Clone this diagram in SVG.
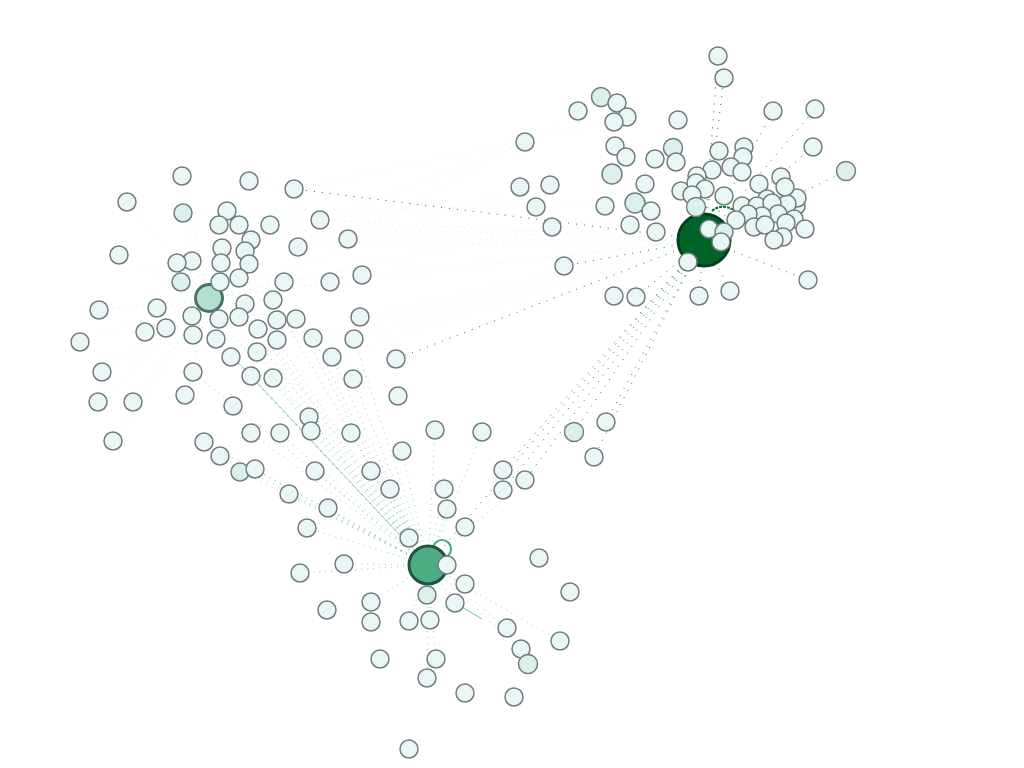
<svg xmlns="http://www.w3.org/2000/svg" width="1024" height="768" viewBox="0 0 1024 768">
<style>
.n circle{fill:#e9f6f6;stroke:#747b7b;stroke-width:1.5}
.d circle{fill:#dbf0ed}
.er{stroke:#006d2c;stroke-width:0.9;stroke-dasharray:1 7;fill:none}
.eb{stroke:#41ae76;stroke-width:0.8;stroke-dasharray:1 5;fill:none;opacity:0.7}
.el{stroke:#99d8c9;stroke-width:0.8;stroke-dasharray:1 5;fill:none;opacity:0.55}
.ef{stroke:#ccece6;stroke-width:0.7;stroke-dasharray:1 5;fill:none;opacity:0.7}
</style>
<rect width="1024" height="768" fill="#ffffff"/>
<g id="connectors">
<path class="ef" d="M209,298L704,240M249,181L704,240M320,220L704,240M348,239L704,240M362,275L704,240M330,282L704,240M298,247L704,240M270,225L704,240M360,317L704,240M209,298L520,187M209,298L552,227M227,211L605,206M251,240L630,225M284,282L651,211M313,338L704,240M354,339L704,240M332,357L704,240M209,298L428,565M183,213L704,240M294,189L614,122M348,239L578,111M320,220L525,142"/>
<path class="er" d="M704,240L294,189M704,240L396,359M704,240L846,171M704,240L815,109M704,240L808,280M704,240L773,111M704,240L724,78M704,240L718,56M704,240L606,422M704,240L574,432M704,240L594,457M704,240L525,480M704,240L503,470M704,240L428,565M704,240L730,291M704,240L699,296M704,240L813,147M704,240L636,297M704,240L564,266M704,240L503,490"/>
<path class="eb" d="M428,565L251,376M428,565L273,378M428,565L231,357M428,565L257,352M428,565L277,340M428,565L258,329M428,565L239,317M428,565L219,319M428,565L245,304M428,565L273,300M428,565L296,319M428,565L313,338M428,565L309,417M428,565L311,431M428,565L280,433M428,565L251,433M428,565L315,471M428,565L351,433M428,565L371,471M428,565L390,489M428,565L402,451M428,565L328,508M428,565L344,564M428,565L307,528M428,565L300,573M428,565L371,602M428,565L409,538M428,565L444,489M428,565L447,509M428,565L465,527M428,565L465,584M428,565L455,603M428,565L427,595M428,565L430,620M428,565L409,621M428,565L436,659M428,565L427,678M428,565L507,628M428,565L521,649M428,565L525,480M428,565L435,430M428,565L482,432M428,565L560,641M428,565L332,357M428,565L354,339M428,565L353,379M428,565L289,494M428,565L220,456M428,565L240,471M428,565L255,469M428,565L204,442M428,565L193,372M428,565L216,339"/>
<line x1="428" y1="565" x2="236" y2="360" stroke="#41ae76" stroke-width="0.6" opacity="0.8"/>
<line x1="455" y1="603" x2="482" y2="619" stroke="#41ae76" stroke-width="0.8"/>
<path class="el" d="M209,298L182,176M209,298L127,202M209,298L183,213M209,298L227,211M209,298L219,225M209,298L239,225M209,298L251,240M209,298L222,248M209,298L245,251M209,298L119,255M209,298L192,261M209,298L177,263M209,298L221,263M209,298L249,264M209,298L181,282M209,298L220,282M209,298L239,278M209,298L99,310M209,298L157,308M209,298L192,316M209,298L219,319M209,298L80,342M209,298L145,332M209,298L166,328M209,298L193,335M209,298L102,372M209,298L193,372M209,298L98,402M209,298L133,402M209,298L113,441M209,298L185,395M209,298L273,300M209,298L284,282M209,298L330,282M209,298L313,338M209,298L296,319"/>
<circle cx="442" cy="549" r="9" fill="none" stroke="#4dac84" stroke-width="2.2"/>
<path d="M712,211 Q722,203 734,210" fill="none" stroke="#006d2c" stroke-width="2" stroke-dasharray="3 1"/>
</g>
<g id="hub-right"><circle cx="704" cy="240" r="26" fill="#006428" stroke="#00401a" stroke-width="3"/></g>
<g id="hub-bottom"><circle cx="428" cy="565" r="19" fill="#4dac84" stroke="#1d5640" stroke-width="3"/></g>
<g id="hub-left"><circle cx="209" cy="298" r="13.5" fill="#b2dfd2" stroke="#4d7268" stroke-width="3"/></g>
<g id="nodes">
<g id="a1" class="n"><circle cx="182" cy="176" r="9"/></g>
<g id="a2" class="n"><circle cx="249" cy="181" r="9"/></g>
<g id="a3" class="n"><circle cx="294" cy="189" r="9"/></g>
<g id="a4" class="n"><circle cx="127" cy="202" r="9"/></g>
<g id="a5" class="n d"><circle cx="183" cy="213" r="9"/></g>
<g id="a6" class="n"><circle cx="227" cy="211" r="9"/></g>
<g id="a7" class="n"><circle cx="219" cy="225" r="9"/></g>
<g id="a8" class="n"><circle cx="239" cy="225" r="9"/></g>
<g id="a9" class="n"><circle cx="270" cy="225" r="9"/></g>
<g id="a10" class="n"><circle cx="320" cy="220" r="9"/></g>
<g id="a11" class="n"><circle cx="348" cy="239" r="9"/></g>
<g id="a12" class="n"><circle cx="251" cy="240" r="9"/></g>
<g id="a13" class="n"><circle cx="222" cy="248" r="9"/></g>
<g id="a14" class="n"><circle cx="245" cy="251" r="9"/></g>
<g id="a15" class="n"><circle cx="298" cy="247" r="9"/></g>
<g id="a16" class="n"><circle cx="119" cy="255" r="9"/></g>
<g id="a17" class="n"><circle cx="192" cy="261" r="9"/></g>
<g id="a18" class="n"><circle cx="177" cy="263" r="9"/></g>
<g id="a19" class="n"><circle cx="221" cy="263" r="9"/></g>
<g id="a20" class="n"><circle cx="249" cy="264" r="9"/></g>
<g id="a21" class="n d"><circle cx="181" cy="282" r="9"/></g>
<g id="a22" class="n"><circle cx="220" cy="282" r="9"/></g>
<g id="a23" class="n"><circle cx="239" cy="278" r="9"/></g>
<g id="a24" class="n"><circle cx="284" cy="282" r="9"/></g>
<g id="a25" class="n"><circle cx="330" cy="282" r="9"/></g>
<g id="a26" class="n"><circle cx="362" cy="275" r="9"/></g>
<g id="a27" class="n"><circle cx="245" cy="304" r="9"/></g>
<g id="a28" class="n"><circle cx="273" cy="300" r="9"/></g>
<g id="a29" class="n"><circle cx="99" cy="310" r="9"/></g>
<g id="a30" class="n"><circle cx="157" cy="308" r="9"/></g>
<g id="a31" class="n"><circle cx="192" cy="316" r="9"/></g>
<g id="a32" class="n"><circle cx="219" cy="319" r="9"/></g>
<g id="a33" class="n"><circle cx="239" cy="317" r="9"/></g>
<g id="a34" class="n"><circle cx="277" cy="320" r="9"/></g>
<g id="a35" class="n"><circle cx="296" cy="319" r="9"/></g>
<g id="a36" class="n"><circle cx="360" cy="317" r="9"/></g>
<g id="a37" class="n"><circle cx="80" cy="342" r="9"/></g>
<g id="a38" class="n"><circle cx="145" cy="332" r="9"/></g>
<g id="a39" class="n"><circle cx="166" cy="328" r="9"/></g>
<g id="a40" class="n"><circle cx="193" cy="335" r="9"/></g>
<g id="a41" class="n"><circle cx="216" cy="339" r="9"/></g>
<g id="a42" class="n"><circle cx="258" cy="329" r="9"/></g>
<g id="a43" class="n"><circle cx="277" cy="340" r="9"/></g>
<g id="a44" class="n"><circle cx="313" cy="338" r="9"/></g>
<g id="a45" class="n"><circle cx="354" cy="339" r="9"/></g>
<g id="a46" class="n"><circle cx="231" cy="357" r="9"/></g>
<g id="a47" class="n"><circle cx="257" cy="352" r="9"/></g>
<g id="a48" class="n"><circle cx="332" cy="357" r="9"/></g>
<g id="a49" class="n"><circle cx="396" cy="359" r="9"/></g>
<g id="a50" class="n"><circle cx="102" cy="372" r="9"/></g>
<g id="a51" class="n"><circle cx="193" cy="372" r="9"/></g>
<g id="a52" class="n"><circle cx="251" cy="376" r="9"/></g>
<g id="a53" class="n"><circle cx="273" cy="378" r="9"/></g>
<g id="a54" class="n"><circle cx="353" cy="379" r="9"/></g>
<g id="b1" class="n"><circle cx="98" cy="402" r="9"/></g>
<g id="b2" class="n"><circle cx="133" cy="402" r="9"/></g>
<g id="b3" class="n"><circle cx="185" cy="395" r="9"/></g>
<g id="b4" class="n"><circle cx="398" cy="396" r="9"/></g>
<g id="b5" class="n"><circle cx="233" cy="406" r="9"/></g>
<g id="b6" class="n"><circle cx="113" cy="441" r="9"/></g>
<g id="b7" class="n"><circle cx="204" cy="442" r="9"/></g>
<g id="b8" class="n"><circle cx="251" cy="433" r="9"/></g>
<g id="b9" class="n"><circle cx="280" cy="433" r="9"/></g>
<g id="b10" class="n"><circle cx="309" cy="417" r="9"/></g>
<g id="b11" class="n"><circle cx="311" cy="431" r="9"/></g>
<g id="b12" class="n"><circle cx="351" cy="433" r="9"/></g>
<g id="b13" class="n"><circle cx="435" cy="430" r="9"/></g>
<g id="b14" class="n"><circle cx="482" cy="432" r="9"/></g>
<g id="b15" class="n"><circle cx="220" cy="456" r="9"/></g>
<g id="b16" class="n d"><circle cx="240" cy="472" r="9"/></g>
<g id="b17" class="n"><circle cx="255" cy="469" r="9"/></g>
<g id="b18" class="n"><circle cx="315" cy="471" r="9"/></g>
<g id="b19" class="n"><circle cx="371" cy="471" r="9"/></g>
<g id="b20" class="n"><circle cx="402" cy="451" r="9"/></g>
<g id="b21" class="n"><circle cx="503" cy="470" r="9"/></g>
<g id="b22" class="n"><circle cx="503" cy="490" r="9"/></g>
<g id="b23" class="n"><circle cx="390" cy="489" r="9"/></g>
<g id="b24" class="n"><circle cx="444" cy="489" r="9"/></g>
<g id="b25" class="n"><circle cx="289" cy="494" r="9"/></g>
<g id="b26" class="n"><circle cx="447" cy="509" r="9"/></g>
<g id="b27" class="n"><circle cx="328" cy="508" r="9"/></g>
<g id="b28" class="n"><circle cx="465" cy="527" r="9"/></g>
<g id="b29" class="n"><circle cx="307" cy="528" r="9"/></g>
<g id="b30" class="n"><circle cx="409" cy="538" r="9"/></g>
<g id="b31" class="n"><circle cx="447" cy="565" r="9"/></g>
<g id="b32" class="n"><circle cx="344" cy="564" r="9"/></g>
<g id="b33" class="n"><circle cx="300" cy="573" r="9"/></g>
<g id="b34" class="n"><circle cx="465" cy="584" r="9"/></g>
<g id="b35" class="n d"><circle cx="427" cy="595" r="9"/></g>
<g id="b36" class="n"><circle cx="455" cy="603" r="9"/></g>
<g id="b37" class="n"><circle cx="371" cy="602" r="9"/></g>
<g id="b38" class="n"><circle cx="327" cy="610" r="9"/></g>
<g id="b39" class="n"><circle cx="371" cy="622" r="9"/></g>
<g id="b40" class="n"><circle cx="409" cy="621" r="9"/></g>
<g id="b41" class="n"><circle cx="430" cy="620" r="9"/></g>
<g id="b42" class="n"><circle cx="507" cy="628" r="9"/></g>
<g id="b43" class="n"><circle cx="380" cy="659" r="9"/></g>
<g id="b44" class="n"><circle cx="436" cy="659" r="9"/></g>
<g id="b45" class="n"><circle cx="427" cy="678" r="9"/></g>
<g id="b46" class="n"><circle cx="465" cy="693" r="9"/></g>
<g id="b47" class="n"><circle cx="514" cy="697" r="9"/></g>
<g id="b48" class="n"><circle cx="409" cy="749" r="9"/></g>
<g id="c1" class="n"><circle cx="606" cy="422" r="9"/></g>
<g id="c2" class="n d"><circle cx="574" cy="432" r="9.5"/></g>
<g id="c3" class="n"><circle cx="594" cy="457" r="9"/></g>
<g id="c4" class="n"><circle cx="525" cy="480" r="9"/></g>
<g id="c5" class="n"><circle cx="539" cy="558" r="9"/></g>
<g id="c6" class="n"><circle cx="570" cy="592" r="9"/></g>
<g id="c7" class="n"><circle cx="560" cy="641" r="9"/></g>
<g id="c8" class="n"><circle cx="521" cy="649" r="9"/></g>
<g id="c9" class="n d"><circle cx="528" cy="664" r="9.5"/></g>
<g id="r1" class="n"><circle cx="718" cy="56" r="9"/></g>
<g id="r2" class="n"><circle cx="724" cy="78" r="9"/></g>
<g id="r3" class="n d"><circle cx="601" cy="97" r="9.5"/></g>
<g id="r4" class="n"><circle cx="617" cy="103" r="9"/></g>
<g id="r5" class="n"><circle cx="627" cy="117" r="9"/></g>
<g id="r6" class="n"><circle cx="614" cy="122" r="9"/></g>
<g id="r7" class="n"><circle cx="578" cy="111" r="9"/></g>
<g id="r8" class="n"><circle cx="678" cy="120" r="9"/></g>
<g id="r9" class="n"><circle cx="773" cy="111" r="9"/></g>
<g id="r10" class="n"><circle cx="815" cy="109" r="9"/></g>
<g id="r11" class="n"><circle cx="525" cy="142" r="9"/></g>
<g id="r12" class="n"><circle cx="615" cy="146" r="9"/></g>
<g id="r13" class="n"><circle cx="626" cy="157" r="9"/></g>
<g id="r14" class="n d"><circle cx="673" cy="148" r="9.5"/></g>
<g id="r15" class="n"><circle cx="655" cy="159" r="9"/></g>
<g id="r16" class="n"><circle cx="676" cy="162" r="9"/></g>
<g id="r17" class="n"><circle cx="813" cy="147" r="9"/></g>
<g id="r18" class="n"><circle cx="719" cy="151" r="9"/></g>
<g id="r19" class="n"><circle cx="744" cy="147" r="9"/></g>
<g id="r20" class="n"><circle cx="743" cy="157" r="9"/></g>
<g id="r21" class="n"><circle cx="731" cy="167" r="9"/></g>
<g id="r22" class="n"><circle cx="742" cy="172" r="9"/></g>
<g id="r23" class="n"><circle cx="712" cy="170" r="9"/></g>
<g id="r24" class="n d"><circle cx="846" cy="171" r="9.5"/></g>
<g id="r25" class="n d"><circle cx="612" cy="174" r="10"/></g>
<g id="r26" class="n"><circle cx="520" cy="187" r="9"/></g>
<g id="r27" class="n"><circle cx="550" cy="185" r="9"/></g>
<g id="r28" class="n"><circle cx="536" cy="207" r="9"/></g>
<g id="r29" class="n"><circle cx="645" cy="184" r="9"/></g>
<g id="r30" class="n"><circle cx="697" cy="176" r="9"/></g>
<g id="r31" class="n"><circle cx="681" cy="191" r="9"/></g>
<g id="r32" class="n"><circle cx="696" cy="183" r="9"/></g>
<g id="r33" class="n"><circle cx="705" cy="189" r="9"/></g>
<g id="r34" class="n"><circle cx="692" cy="195" r="9"/></g>
<g id="r35" class="n"><circle cx="724" cy="196" r="9"/></g>
<g id="r36" class="n d"><circle cx="696" cy="207" r="9.5"/></g>
<g id="r37" class="n"><circle cx="759" cy="184" r="9"/></g>
<g id="r38" class="n"><circle cx="781" cy="177" r="9"/></g>
<g id="r39" class="n d"><circle cx="635" cy="203" r="10"/></g>
<g id="r40" class="n"><circle cx="605" cy="206" r="9"/></g>
<g id="r41" class="n"><circle cx="651" cy="211" r="9"/></g>
<g id="r42" class="n"><circle cx="552" cy="227" r="9"/></g>
<g id="r43" class="n"><circle cx="630" cy="225" r="9"/></g>
<g id="r44" class="n"><circle cx="656" cy="232" r="9"/></g>
<g id="r45" class="n"><circle cx="796" cy="206" r="9"/></g>
<g id="r46" class="n"><circle cx="797" cy="198" r="9"/></g>
<g id="r47" class="n"><circle cx="767" cy="199" r="9"/></g>
<g id="r48" class="n"><circle cx="742" cy="206" r="9"/></g>
<g id="r49" class="n"><circle cx="757" cy="206" r="9"/></g>
<g id="r50" class="n"><circle cx="787" cy="204" r="9"/></g>
<g id="r51" class="n"><circle cx="785" cy="187" r="9"/></g>
<g id="r52" class="n"><circle cx="772" cy="203" r="9"/></g>
<g id="r53" class="n"><circle cx="794" cy="219" r="9"/></g>
<g id="r72" class="n"><circle cx="778" cy="214" r="9"/></g>
<g id="r73" class="n"><circle cx="762" cy="216" r="9"/></g>
<g id="r54" class="n"><circle cx="805" cy="229" r="9"/></g>
<g id="r55" class="n"><circle cx="786" cy="223" r="9"/></g>
<g id="r56" class="n"><circle cx="748" cy="214" r="9"/></g>
<g id="r57" class="n"><circle cx="736" cy="220" r="9"/></g>
<g id="r58" class="n"><circle cx="754" cy="227" r="9"/></g>
<g id="r59" class="n"><circle cx="765" cy="225" r="9"/></g>
<g id="r60" class="n"><circle cx="783" cy="237" r="9"/></g>
<g id="r61" class="n"><circle cx="774" cy="240" r="9"/></g>
<g id="r62" class="n"><circle cx="709" cy="229" r="9"/></g>
<g id="r63" class="n d"><circle cx="724" cy="232" r="9"/></g>
<g id="r64" class="n"><circle cx="721" cy="242" r="9"/></g>
<g id="r65" class="n"><circle cx="688" cy="262" r="9"/></g>
<g id="r66" class="n"><circle cx="564" cy="266" r="9"/></g>
<g id="r67" class="n"><circle cx="808" cy="280" r="9"/></g>
<g id="r68" class="n"><circle cx="614" cy="296" r="9"/></g>
<g id="r69" class="n"><circle cx="636" cy="297" r="9"/></g>
<g id="r70" class="n"><circle cx="699" cy="296" r="9"/></g>
<g id="r71" class="n"><circle cx="730" cy="291" r="9"/></g>
</g>
</svg>
